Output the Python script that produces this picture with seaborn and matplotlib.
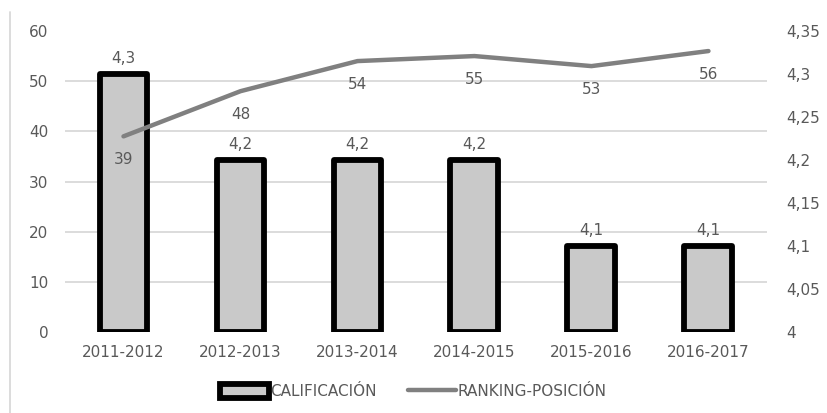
import matplotlib
matplotlib.use("Agg")
import matplotlib.pyplot as plt
from matplotlib.lines import Line2D
import seaborn as sns
import pandas as pd
import numpy as np

periodos = ["2011-2012", "2012-2013", "2013-2014", "2014-2015", "2015-2016", "2016-2017"]
calificacion = [4.3, 4.2, 4.2, 4.2, 4.1, 4.1]
ranking = [39, 48, 54, 55, 53, 56]

base = 4.0
txt = "#595959"

sns.set_theme(style="white")
plt.rcParams["font.family"] = ["DejaVu Sans"]

df = pd.DataFrame({"Periodo": periodos, "Calificacion": calificacion, "Ranking": ranking})
df["Altura"] = df["Calificacion"] - base
df["pos"] = np.arange(len(df))

fig = plt.figure(figsize=(8.27, 4.13), dpi=100)
ax = fig.add_axes([0.0786, 0.196, 0.8488, 0.729])
ax2 = ax.twinx()

# bars on the right axis, behind the line
sns.barplot(data=df, x="Periodo", y="Altura", bottom=base, ax=ax2, color="#c9c9c9",
            edgecolor="black", linewidth=4.2, width=0.41, saturation=1,
            label="CALIFICACIÓN")
if ax2.get_legend() is not None:
    ax2.get_legend().remove()
ax2.set_ylim(4, 4.35)
ticks_r = np.round(np.arange(4, 4.351, 0.05), 2)
ax2.set_yticks(ticks_r)
ax2.set_yticklabels([f"{v:g}".replace(".", ",") for v in ticks_r])
# gridlines follow the left axis (0..60 by 10), drawn behind the bars
ax2.set_yticks(np.linspace(4, 4.35, 7), minor=True)
ax2.yaxis.grid(True, which="minor", color="#d9d9d9", linewidth=1.3)
ax2.yaxis.grid(False, which="major")
ax2.set_axisbelow(True)
for p in ax2.patches:
    p.set_joinstyle("round")
for i, v in enumerate(calificacion):
    ax2.annotate(f"{v:.1f}".replace(".", ","), (i, v), xytext=(0, 6), textcoords="offset points",
                 ha="center", va="bottom", fontsize=11, color=txt)

# ranking line on the left axis
sns.lineplot(data=df, x="pos", y="Ranking", ax=ax, color="#808080", linewidth=3.2,
             label="RANKING-POSICIÓN", legend=False)
for i, v in enumerate(ranking):
    ax.annotate(str(v), (i, v), xytext=(0, -17), textcoords="offset points",
                ha="center", va="center", fontsize=11, color=txt)
ax.set_ylim(0, 60)
ax.set_yticks(range(0, 61, 10))
ax.set_xlim(-0.5, len(periodos) - 0.5)
ax.set_xticks(range(len(periodos)))
ax.set_xticklabels(periodos)
ax.set_zorder(ax2.get_zorder() + 1)
ax.patch.set_visible(False)
ax.grid(False)
ax.set_xlabel("")
ax.set_ylabel("")
ax2.set_xlabel("")
ax2.set_ylabel("")

for a in (ax, ax2):
    for s in a.spines.values():
        s.set_visible(False)
ax.tick_params(axis="y", length=0, pad=12, labelsize=11, labelcolor=txt)
ax.tick_params(axis="x", length=0, pad=9, labelsize=11, labelcolor=txt)
ax2.tick_params(axis="y", which="both", length=0, pad=14, labelsize=11, labelcolor=txt)

h1, l1 = ax2.get_legend_handles_labels()
h2, l2 = ax.get_legend_handles_labels()
fig.legend(h1 + h2, l1 + l2, loc="center", bbox_to_anchor=(0.5, 0.051), ncol=2,
           frameon=False, fontsize=11, labelcolor=txt, handlelength=3.2,
           handleheight=1.0, handletextpad=0.1, columnspacing=2.0)

fig.add_artist(Line2D([10 / 827, 10 / 827], [0, 1 - 12 / 413], transform=fig.transFigure,
                      color="#d9d9d9", linewidth=1.3))

fig.savefig("out.png", dpi=100)
